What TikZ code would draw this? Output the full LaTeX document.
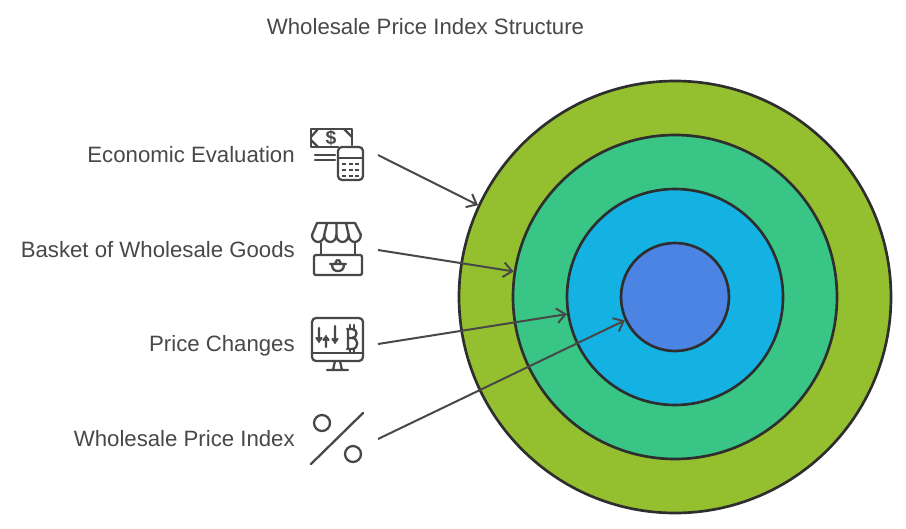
\documentclass[tikz,border=0pt]{standalone}
\usepackage{xcolor}
\usepackage{fontspec}
\setmainfont{Liberation Sans}
\usetikzlibrary{positioning,arrows.meta}
\definecolor{inkgray}{HTML}{484848}
\definecolor{ringdark}{HTML}{2E2E2E}
\definecolor{ringgreen}{HTML}{94C02F}
\definecolor{ringteal}{HTML}{38C585}
\definecolor{ringblue}{HTML}{14B1E3}
\definecolor{ringindigo}{HTML}{4C84E4}

\begin{document}
\begin{tikzpicture}[
    x=0.75pt, y=-0.75pt,
    every node/.style={text=inkgray, inner sep=0pt, font=\fontsize{16.65}{20}\selectfont},
    lbl/.style={anchor=base east},
    ring/.style={circle, draw=ringdark, line width=2pt},
    link/.style={draw=inkgray, line width=1.5pt, -{Straight Barb[length=6.5pt,width=11pt,line width=1.5pt]}},
    icon/.style={draw=inkgray, line width=1.7pt, line cap=round, line join=round}
]
    \useasboundingbox (0,0) rectangle (906,528);
    \fill[white] (0,0) rectangle (906,528);

    \node[anchor=base] (title) at (425.5,35) {Wholesale Price Index Structure};

    % the rings
    \node[ring, fill=ringgreen, minimum size=324pt] (ringA) at (675,297) {};
    \node[ring, fill=ringteal, minimum size=243pt] (ringB) at (675,297) {};
    \node[ring, fill=ringblue, minimum size=162pt] (ringC) at (675,297) {};
    \node[ring, fill=ringindigo, minimum size=81pt] (ringD) at (675,297) {};

    % labels
    \node[lbl] (evaluation) at (295,162.3) {Economic Evaluation};
    \node[lbl] (basket) at (295,257.3) {Basket of Wholesale Goods};
    \node[lbl] (changes) at (295,351.5) {Price Changes};
    \node[lbl] (index) at (295,446.3) {Wholesale Price Index};

    % connectors
    \coordinate (evaluationEnd) at (378,155);
    \coordinate (basketEnd) at (378,250);
    \coordinate (changesEnd) at (378,344);
    \coordinate (indexEnd) at (378,439);
    \draw[link] (evaluationEnd) -- (ringA.155);
    \draw[link] (basketEnd) -- (ringB.171);
    \draw[link] (changesEnd) -- (ringC.189);
    \draw[link] (indexEnd) -- (ringD.205.5);

    % money and calculator
    \draw[icon] (338,147) -- (311,147) -- (311,129) -- (352,129) -- (352,145);
    \draw[icon] (311,137) -- (318,129) (344,129) -- (352,137) (311,140) -- (318,147);
    \draw[icon] (315,155) -- (335,155) (315,160) -- (335,160);
    \node[font=\fontsize{14.5}{16}\bfseries\selectfont] (dollar) at (331,138) {\$};
    \draw[icon, fill=white, rounded corners=3pt] (338,147) rectangle (363,180);
    \draw[icon] (338,158) -- (363,158);
    \foreach \row in {164,170,176}
        \foreach \col in {344,350.5,357}
            \fill[inkgray] (\col-2,\row-1) rectangle (\col+2,\row+1);

    % market stall
    \draw[icon] (312,235) -- (317,223) -- (355,223) -- (361,235);
    \draw[icon] (312,235) arc[start angle=180, end angle=0, x radius=6.1, y radius=7]
        arc[start angle=180, end angle=0, x radius=6.1, y radius=7]
        arc[start angle=180, end angle=0, x radius=6.1, y radius=7]
        arc[start angle=180, end angle=0, x radius=6.1, y radius=7];
    \draw[icon] (327,223) -- (324.2,235) (336.5,223) -- (336.5,235) (346,223) -- (348.7,235);
    \draw[icon] (321,243) -- (321,255) (355,243) -- (355,255);
    \draw[icon, rounded corners=1.5pt] (314,255) rectangle (362,275);
    \draw[icon] (330,264) -- (346,264) (332,264) .. controls (332,270) and (335,271) .. (338,271)
        .. controls (341,271) and (344,270) .. (344,264);
    \draw[icon] (335,264) -- (337,260) (341,264) -- (339,260);

    % monitor
    \draw[icon, rounded corners=3pt] (312,318) rectangle (363,361);
    \draw[icon] (312,353) -- (363,353);
    \draw[icon] (335,361) -- (333,370) (340,361) -- (342,370) (327,370) -- (348,370);
    \draw[icon] (319,328) -- (319,342) (316.5,338) -- (319,341) -- (321.5,338);
    \draw[icon] (326,336) -- (326,347) (323.5,340) -- (326,337) -- (328.5,340);
    \draw[icon] (335,326) -- (335,343) (332.5,339) -- (335,342) -- (337.5,339);
    \draw[icon] (348,329) -- (348,349) (347,329) -- (352,329)
        .. controls (358,329) and (358,338) .. (352,338) -- (348,338) (352,338)
        .. controls (359,338) and (359,349) .. (352,349) -- (347,349);
    \draw[icon] (350,325) -- (350,329) (354,325) -- (354,329) (350,349) -- (350,352) (354,349) -- (354,352);

    % percent sign
    \draw[icon] (322,423) circle[radius=8];
    \draw[icon] (353,454) circle[radius=8];
    \draw[icon] (311,464) -- (363,413);
\end{tikzpicture}
\end{document}
